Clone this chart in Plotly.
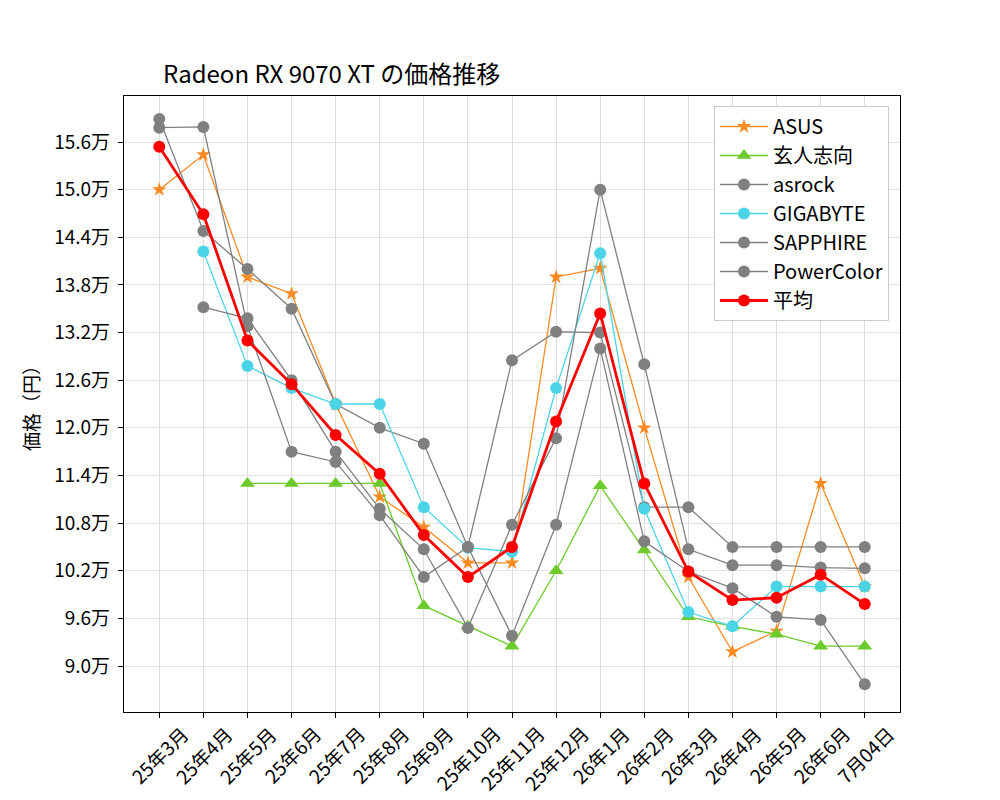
import plotly.graph_objects as go

months = ["25年3月", "25年4月", "25年5月", "25年6月", "25年7月", "25年8月", "25年9月",
          "25年10月", "25年11月", "25年12月", "26年1月", "26年2月", "26年3月", "26年4月",
          "26年5月", "26年6月", "7月04日"]

asus = [150000, 154400, 139000, 136900, 123000, 111300, 107500, 103000, 103000,
        139000, 140100, 120000, 101200, 91800, 94400, 113000, 100000]
kuroto = [None, None, 113000, 113000, 113000, 113000, 97600, 95000, 92500,
          102000, 112700, 104600, 96200, 95000, 94000, 92500, 92500]
asrock = [158900, 144800, 140000, 135000, 123000, 120000, 118000, 105000, 128500,
          132100, 132000, 110000, 110000, 105000, 105000, 105000, 105000]
gigabyte = [None, 142200, 127800, 125000, 123000, 123000, 110000, 104900, 104400,
            125000, 142000, 109800, 96800, 95000, 100000, 100000, 100000]
sapphire = [157800, 157900, 132800, 117000, 115700, 109000, 101200, 105000, 93800,
            107800, 130000, 105700, 101900, 99800, 96200, 95800, 87700]
powercolor = [None, 135200, 133800, 126000, 117000, 109800, 104700, 94800, 107800,
              118700, 150000, 128000, 104700, 102700, 102700, 102400, 102300]
average = [155400, 146900, 131000, 125500, 119100, 114200, 106500, 101200, 105000,
           120800, 134400, 113000, 101900, 98300, 98600, 101500, 97800]

y_tick_values = [90000, 96000, 102000, 108000, 114000, 120000, 126000, 132000,
                 138000, 144000, 150000, 156000]
y_tick_labels = [f"{v / 10000:.1f}万" for v in y_tick_values]

title_text = "Radeon RX 9070 XT の価格推移"
y_label = "価格（円）"

FONT = "Noto Sans CJK JP"
x_idx = list(range(len(months)))

series = [
    ("ASUS", asus, "#f98b22", "star", 11, 1.3),
    ("玄人志向", kuroto, "#6ccb2b", "triangle-up", 13, 1.3),
    ("asrock", asrock, "#808080", "circle", 12, 1.3),
    ("GIGABYTE", gigabyte, "#4bd4e6", "circle", 12, 1.3),
    ("SAPPHIRE", sapphire, "#808080", "circle", 12, 1.3),
    ("PowerColor", powercolor, "#808080", "circle", 12, 1.3),
    ("平均", average, "#ff0000", "circle", 12, 2.8),
]

fig = go.Figure()
for name, vals, color, sym, msize, lw in series:
    fig.add_trace(go.Scatter(
        x=x_idx, y=vals, name=name, mode="lines+markers",
        line=dict(color=color, width=lw),
        marker=dict(color=color, symbol=sym, size=msize, line=dict(width=0)),
        connectgaps=False,
    ))

# rotated x tick labels, centered under each tick (matplotlib style)
for i, lab in enumerate(months):
    fig.add_annotation(
        x=i, y=0, xref="x", yref="paper", text=lab, showarrow=False,
        textangle=-45, xanchor="center", yanchor="top", yshift=-5,
        font=dict(family=FONT, size=19, color="black"),
    )

fig.add_annotation(
    x=-0.121, y=0.5, xref="paper", yref="paper", text=y_label, showarrow=False,
    textangle=-90, xanchor="center", yanchor="middle",
    font=dict(family=FONT, size=19, color="black"),
)

fig.update_layout(
    width=1000, height=800,
    margin=dict(l=124, r=100, t=96, b=88),
    paper_bgcolor="white", plot_bgcolor="white",
    font=dict(family=FONT, size=19, color="black"),
    title=dict(
        text=title_text, x=163 / 1000, xanchor="left", xref="container",
        y=1 - 75 / 800, yanchor="middle", yref="container",
        font=dict(family=FONT, size=24, color="black"),
    ),
    showlegend=True,
    legend=dict(
        x=(889 - 124) / 776, y=1 - 10 / 616, xanchor="right", yanchor="top",
        bgcolor="white", bordercolor="#cccccc", borderwidth=1,
        font=dict(family=FONT, size=20, color="black"),
        tracegroupgap=0, itemwidth=48,
    ),
)

fig.update_xaxes(
    range=[-0.8, 16.8], tickvals=x_idx, showticklabels=False,
    ticks="outside", ticklen=5, tickcolor="black", tickwidth=1,
    showline=True, mirror=True, linecolor="black", linewidth=1.2,
    showgrid=True, gridcolor="#dddddd", gridwidth=1, zeroline=False,
)
fig.update_yaxes(
    range=[84206, 161794], tickvals=y_tick_values, ticktext=y_tick_labels,
    ticks="outside", ticklen=5, tickcolor="black", tickwidth=1,
    showline=True, mirror=True, linecolor="black", linewidth=1.2,
    showgrid=True, gridcolor="#e3e3e3", gridwidth=1, zeroline=False,
    tickfont=dict(family=FONT, size=19, color="black"),
    ticklabelstandoff=4,
)

fig.write_html("out.html")
